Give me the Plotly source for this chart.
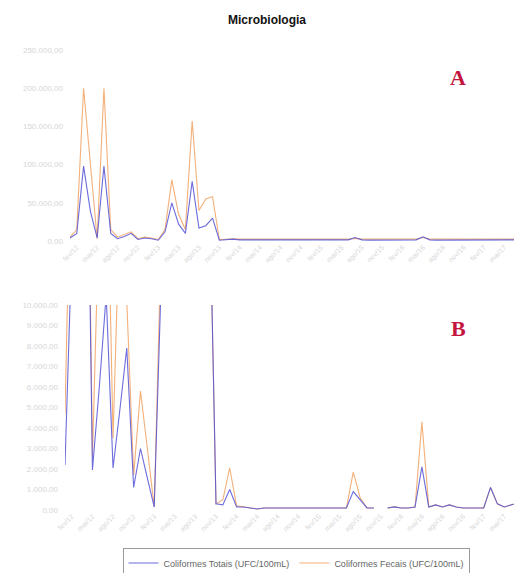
import plotly.graph_objects as go

# ---- data ----
datas = [
    "jan/12", "fev/12", "mar/12", "abr/12", "mai/12", "jun/12", "jul/12", "ago/12", "set/12", "out/12", "nov/12", "dez/12",
    "jan/13", "fev/13", "mar/13", "abr/13", "mai/13", "jun/13", "jul/13", "ago/13", "set/13", "out/13", "nov/13", "dez/13",
    "jan/14", "fev/14", "mar/14", "abr/14", "mai/14", "jun/14", "jul/14", "ago/14", "set/14", "out/14", "nov/14", "dez/14",
    "jan/15", "fev/15", "mar/15", "abr/15", "mai/15", "jun/15", "jul/15", "ago/15", "set/15", "out/15", "nov/15", "dez/15",
    "jan/16", "fev/16", "mar/16", "abr/16", "mai/16", "jun/16", "jul/16", "ago/16", "set/16", "out/16", "nov/16", "dez/16",
    "jan/17", "fev/17", "mar/17", "abr/17", "mai/17", "jun/17", "jul/17",
]

a_totais = [4000, 10000, 98000, 39000, 4000, 98000, 10000, 3000, 6000, 10000,
            2000, 4000, 3000, 1000, 12000, 50000, 22000, 10000, 78000, 17000,
            20000, 30000, 1000, 1500, 2500, 1500, 1500, 1200, 1200, 1500,
            1200, 1200, 1200, 1200, 1200, 1200, 1200, 1200, 1200, 1200,
            1200, 1500, 4500, 1500, 1200, 1200, 1200, 1200, 1200, 1200,
            1200, 1500, 5500, 1500, 1200, 1200, 1200, 1200, 1200, 1200,
            1200, 1200, 1500, 1200, 1200, 1200, 1500]
a_fecais = [5000, 15000, 200000, 100000, 3000, 200000, 15000, 5000, 8000, 12000,
            3000, 5000, 4000, 2000, 15000, 80000, 35000, 15000, 157000, 40000,
            55000, 58000, 2000, 2500, 3000, 2500, 2500, 2500, 2500, 2500,
            2500, 2500, 2500, 2500, 2500, 2500, 2500, 2500, 2500, 2500,
            2500, 2500, 3500, 2500, 2500, 2500, 2500, 2500, 2500, 2500,
            2500, 2500, 4500, 2500, 2500, 2500, 2500, 2500, 2500, 2500,
            2500, 2500, 2500, 2500, 2500, 2500, 2500]

b_totais = [2200, 12900, 25000, 25600, 1950, 6000, 10500, 2050, 4900, 7900,
            1100, 3000, 1550, 150, 11000, 30000, 35000, 30000, 32000, 30000,
            28000, 16800, 300, 250, 1000, 150, 150, 100, 50, 100,
            100, 100, 80, 100, 100, 100, 100, 100, 100, 100,
            100, 100, 900, 500, 100, 100, None, 100, 150, 100,
            100, 150, 2100, 150, 250, 150, 250, 150, 100, 100,
            100, 100, 1100, 300, 150, 250, 350]
b_fecais = [4700, 20000, 30000, 28000, 2600, 15000, 20000, 3500, 15000, 10200,
            1700, 5800, 3000, 150, 13000, 35000, 40000, 35000, 36000, 34000,
            30000, 16800, 300, 500, 2050, 200, 150, 100, 50, 100,
            100, 100, 80, 100, 100, 100, 100, 100, 100, 100,
            100, 100, 1850, 600, 100, 100, None, 100, 150, 100,
            100, 150, 4300, 150, 250, 150, 250, 150, 100, 100,
            100, 100, 1100, 300, 150, 250, 350]

a_ticks = [0, 50000, 100000, 150000, 200000, 250000]
b_ticks = [0, 1000, 2000, 3000, 4000, 5000, 6000, 7000, 8000, 9000, 10000]

nome_totais = "Coliformes Totais (UFC/100mL)"
nome_fecais = "Coliformes Fecais (UFC/100mL)"

# ---- styling ----
OFF = 8  # page body margin of the browser
W, H = 522 - OFF, 573 - OFF
BLUE = "#5353d6"
ORANGE = "#f3b07a"
FAINT = "#d6d6d6"

def px_x(p):
    return (p - OFF) / W

def px_y(p):
    return 1 - (p - OFF) / H

x = list(range(len(datas)))

fig = go.Figure()
# Panel A
fig.add_trace(go.Scatter(x=x, y=a_fecais, xaxis="x", yaxis="y", mode="lines",
                         line=dict(color=ORANGE, width=1.1), showlegend=False, name=nome_fecais))
fig.add_trace(go.Scatter(x=x, y=a_totais, xaxis="x", yaxis="y", mode="lines",
                         line=dict(color=BLUE, width=1.1), opacity=0.85, showlegend=False, name=nome_totais))
# Panel B
fig.add_trace(go.Scatter(x=x, y=b_fecais, xaxis="x2", yaxis="y2", mode="lines",
                         line=dict(color=ORANGE, width=1.1), name=nome_fecais, legendrank=2))
fig.add_trace(go.Scatter(x=x, y=b_totais, xaxis="x2", yaxis="y2", mode="lines",
                         line=dict(color=BLUE, width=1.1), opacity=0.85, name=nome_totais, legendrank=1))

tickvals = x[1::3]
ticktext = datas[1::3]

common_x = dict(showgrid=False, zeroline=False, showline=False, ticks="", automargin=False,
                tickmode="array", tickvals=tickvals, ticktext=ticktext,
                tickangle=-45, tickfont=dict(size=7, color=FAINT, family="Liberation Sans"),
                range=[0, len(datas) - 1])
common_y = dict(showgrid=False, zeroline=False, showline=False, ticks="", automargin=False,
                tickfont=dict(size=8, color=FAINT, family="Liberation Sans"),
                tickmode="array", tickformat=",.2f", ticklabelstandoff=6)

fig.update_layout(
    width=W, height=H,
    separators=",.",
    margin=dict(l=0, r=0, t=0, b=0, autoexpand=False),
    paper_bgcolor="white", plot_bgcolor="white",
    xaxis=dict(domain=[px_x(70), px_x(518)], anchor="y", **common_x),
    yaxis=dict(domain=[px_y(241), px_y(50)], anchor="x", range=[0, 250000],
               tickvals=a_ticks, **common_y),
    xaxis2=dict(domain=[px_x(65), px_x(518)], anchor="y2", **common_x),
    yaxis2=dict(domain=[px_y(510), px_y(305)], anchor="x2", range=[0, 10000],
                tickvals=b_ticks, **common_y),
    showlegend=True,
    legend=dict(orientation="h", x=px_x(296), xanchor="center", y=px_y(563), yanchor="middle",
                font=dict(size=9, color="#666666", family="Liberation Sans"),
                bordercolor="#9a9a9a", borderwidth=1, bgcolor="white",
                traceorder="normal", itemwidth=30),
    annotations=[
        dict(text="<b>Microbiologia</b>", x=px_x(267), y=px_y(20), xref="paper", yref="paper",
             xanchor="center", yanchor="middle",
             showarrow=False, font=dict(size=12, color="#111111", family="Liberation Sans")),
        dict(text="<b>A</b>", x=px_x(458), y=px_y(77), xref="paper", yref="paper",
             xanchor="center", yanchor="middle",
             showarrow=False, font=dict(size=22, color="#c2163f", family="Liberation Serif")),
        dict(text="<b>B</b>", x=px_x(458), y=px_y(328), xref="paper", yref="paper",
             xanchor="center", yanchor="middle",
             showarrow=False, font=dict(size=22, color="#c2163f", family="Liberation Serif")),
    ],
)

fig.write_html("out.html")
